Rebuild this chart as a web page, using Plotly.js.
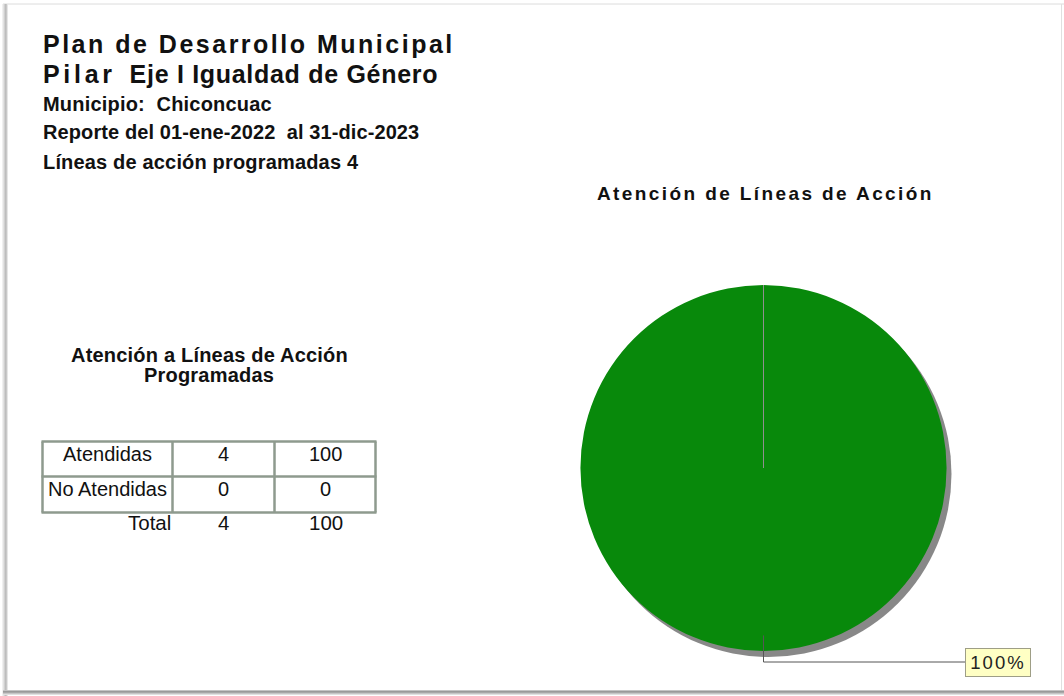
<!DOCTYPE html>
<html><head><meta charset="utf-8">
<script src="https://cdn.plot.ly/plotly-3.0.1.min.js"></script>
<style>html,body{margin:0;padding:0;background:#fff;} #chart{width:1064px;height:696px;}</style>
</head><body><div id="chart"></div>
<script>
// ---- data ----
const categories = ['Atendidas', 'No Atendidas'];
const counts = [4, 0];
const percents = [100, 0];
const totalLabel = 'Total';
const totalCount = 4;
const totalPercent = 100;
const titleLine1 = 'Plan de Desarrollo Municipal';
const pilarWord = 'Pilar';
const ejeText = 'Eje I Igualdad de Género';
const municipioText = 'Municipio:\u00A0\u00A0Chiconcuac';
const reporteText = 'Reporte del 01-ene-2022\u00A0\u00A0al 31-dic-2023';
const lineasText = 'Líneas de acción programadas ' + totalCount;
const chartTitle = 'Atención de Líneas de Acción';
const tableTitle1 = 'Atención a Líneas de Acción';
const tableTitle2 = 'Programadas';

// ---- layout helpers ----
const W = 1064, H = 696;
const px = x => x / W;
const py = y => 1 - y / H;
const FONT = 'Liberation Sans, Arial, Helvetica, sans-serif';
const sp = (t, s) => '<span style="letter-spacing:' + s + 'px">' + t + '</span>';

const pieL = 580.5, pieR = 946.5, pieT = 285, pieB = 651;
const cx = (pieL + pieR) / 2, cy = (pieT + pieB) / 2, rad = (pieB - pieT) / 2;
const shX = 5, shY = 6;

const data = [
  {
    type: 'pie', values: counts, labels: categories, sort: false, direction: 'clockwise',
    marker: {colors: ['#888888', '#888888'], line: {width: 0}},
    domain: {x: [px(pieL + shX), px(pieR + shX)], y: [py(pieB + shY), py(pieT + shY)]},
    textinfo: 'none', hoverinfo: 'skip', showlegend: false
  },
  {
    type: 'pie', values: counts, labels: categories, sort: false, direction: 'clockwise',
    marker: {colors: ['#08890b', '#c00000'], line: {width: 0}},
    domain: {x: [px(pieL), px(pieR)], y: [py(pieB), py(pieT)]},
    textinfo: 'none', showlegend: false
  }
];

const ann = (x, y, text, size, opts) => Object.assign({
  x: px(x), y: py(y), xref: 'paper', yref: 'paper', xanchor: 'left', yanchor: 'middle',
  showarrow: false, text: text, borderpad: 0,
  font: {family: FONT, size: size, color: '#111', weight: 'bold'}
}, opts || {});

const annotations = [
  ann(42, 44, sp(titleLine1, 2.5), 25),
  ann(42, 74, sp(pilarWord, 3.7) + '\u00A0\u00A0' + sp(ejeText, 0.7), 25),
  ann(42, 104, sp(municipioText, 0.2), 20),
  ann(42, 132, sp(reporteText, 0.1), 20),
  ann(42, 162, sp(lineasText, 0.17), 20),
  ann(765, 193, sp(chartTitle, 2.4), 19, {xanchor: 'center'}),
  ann(209, 355, sp(tableTitle1, 0.2), 20, {xanchor: 'center'}),
  ann(209, 375, sp(tableTitle2, 0.2), 20, {xanchor: 'center'}),
  ann(998, 662.5, sp(percents[0] + '%', 2), 18.5, {
    xanchor: 'center', bgcolor: '#ffffc4', bordercolor: '#9e9e86', borderwidth: 1,
    width: 64, height: 27, font: {family: FONT, size: 18.5, color: '#222', weight: 'normal'}
  })
];

// ---- table (grid + cells drawn from the data arrays) ----
const colEdges = [42.5, 172.5, 274.5, 375.5];
const rowEdges = [441.5, 476.5, 512.5];
const colCenters = [107.5, 223.5, 325.5];
const rowCenters = [453.5, 489];
const totalY = 522;
const cellFont = {family: FONT, size: 20, color: '#111', weight: 'normal'};
categories.forEach((c, i) => {
  const row = [c, String(counts[i]), String(percents[i])];
  row.forEach((v, j) => annotations.push(ann(colCenters[j], rowCenters[i], v, 20, {xanchor: 'center', font: cellFont})));
});
annotations.push(ann(172, totalY, totalLabel, 20.5, {xanchor: 'right', font: Object.assign({}, cellFont, {size: 20.5})}));
annotations.push(ann(colCenters[1], totalY, String(totalCount), 20.5, {xanchor: 'center', font: Object.assign({}, cellFont, {size: 20.5})}));
annotations.push(ann(colCenters[2], totalY, String(totalPercent), 20.5, {xanchor: 'center', font: Object.assign({}, cellFont, {size: 20.5})}));

const gridLine = {color: '#8e9a8e', width: 2.5};
const shapes = [];
rowEdges.forEach(y => shapes.push({type: 'line', xref: 'paper', yref: 'paper',
  x0: px(colEdges[0] - 1), x1: px(colEdges[colEdges.length - 1] + 1), y0: py(y), y1: py(y), line: gridLine}));
colEdges.forEach(x => shapes.push({type: 'line', xref: 'paper', yref: 'paper',
  x0: px(x), x1: px(x), y0: py(rowEdges[0]), y1: py(rowEdges[rowEdges.length - 1]), line: gridLine}));

const leadY = 662;
shapes.push(
  // slice boundary line
  {type: 'line', xref: 'paper', yref: 'paper', x0: px(cx), x1: px(cx), y0: py(cy), y1: py(pieT),
   line: {color: '#8f8f8f', width: 1}},
  // leader line
  {type: 'path', xref: 'paper', yref: 'paper',
   path: 'M ' + px(cx) + ' ' + py(cy + rad * 0.915) + ' L ' + px(cx) + ' ' + py(leadY) + ' L ' + px(966) + ' ' + py(leadY),
   line: {color: '#555555', width: 1}}
);
// frame
const frame = [
  ['h', 4, '#dcdcdc'], ['v', 1061.5, '#e0e0e0'],
  ['v', 2.5, '#f0f0f0'], ['v', 3.5, '#e2e2e2'], ['v', 4.5, '#d0d0d0'], ['v', 5.5, '#bdbdbd'], ['v', 6.5, '#c8c8c8'], ['v', 7.5, '#e6e6e6'],
  ['h', 690.5, '#c4c4c4'], ['h', 691.5, '#9a9a9a'], ['h', 692.5, '#a8a8a8'], ['h', 693.5, '#c6c6c6'], ['h', 694.5, '#e0e0e0']
];
frame.forEach(([k, p, c]) => shapes.push(k === 'h'
  ? {type: 'line', xref: 'paper', yref: 'paper', x0: px(3), x1: px(1064), y0: py(p), y1: py(p), line: {color: c, width: 1}}
  : {type: 'line', xref: 'paper', yref: 'paper', x0: px(p), x1: px(p), y0: py(4), y1: py(p < 100 ? 696 : 690), line: {color: c, width: 1}}));

const layout = {
  width: W, height: H, margin: {l: 0, r: 0, t: 0, b: 0},
  paper_bgcolor: '#ffffff', plot_bgcolor: '#ffffff', showlegend: false,
  font: {family: FONT}, annotations: annotations, shapes: shapes
};

Plotly.newPlot('chart', data, layout, {staticPlot: true, displayModeBar: false});
</script>
</body></html>
